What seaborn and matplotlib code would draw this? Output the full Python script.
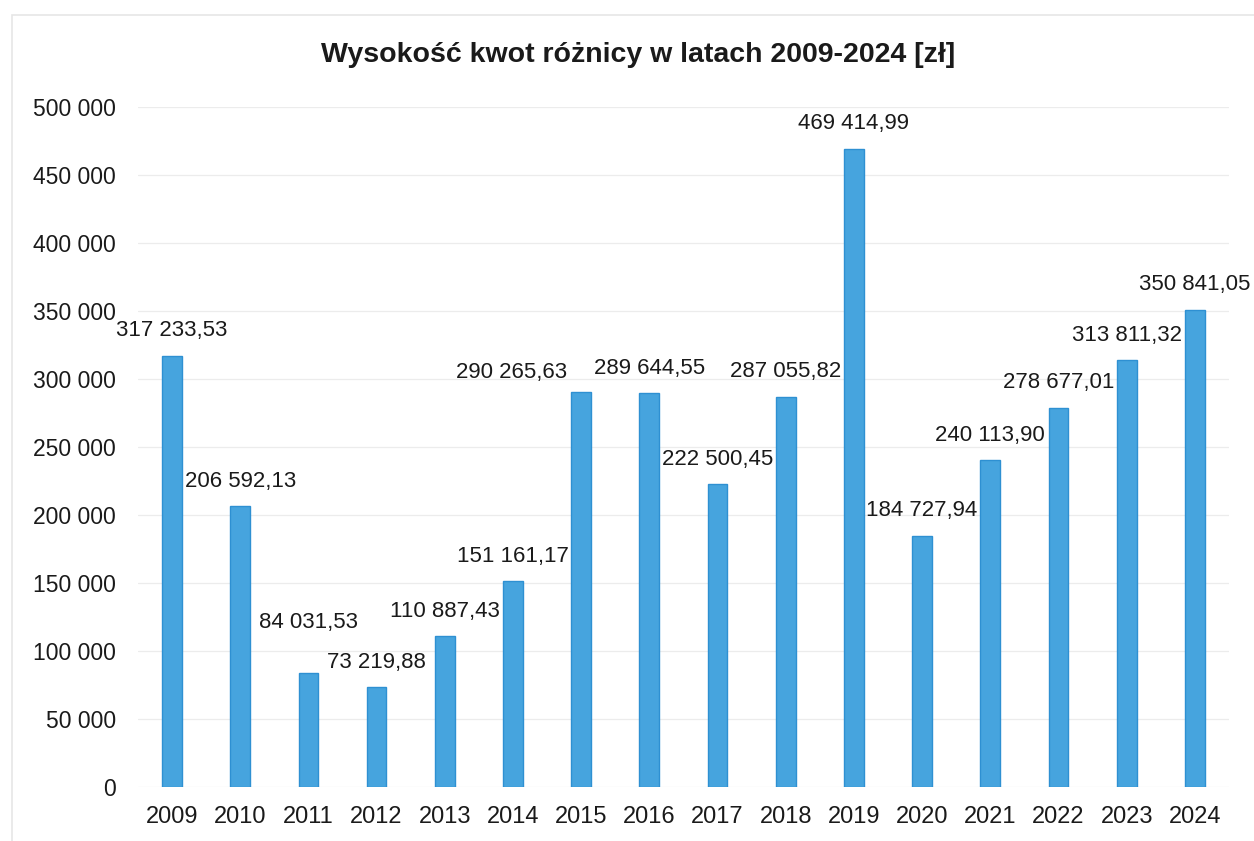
"""
Wysokość kwot różnicy w latach 2009-2024 — odtworzenie wykresu słupkowego.

Output: out.png (1254x841)
"""

import matplotlib
matplotlib.use("Agg")
import matplotlib.pyplot as plt
import pandas as pd
import seaborn as sns
from matplotlib.patches import Rectangle

YEARS = ["2009", "2010", "2011", "2012", "2013", "2014", "2015", "2016",
         "2017", "2018", "2019", "2020", "2021", "2022", "2023", "2024"]
AMOUNTS = [317233.53, 206592.13, 84031.53, 73219.88, 110887.43, 151161.17,
           290265.63, 289644.55, 222500.45, 287055.82, 469414.99, 184727.94,
           240113.90, 278677.01, 313811.32, 350841.05]
Y_TICKS = [0, 50000, 100000, 150000, 200000, 250000, 300000, 350000, 400000,
           450000, 500000]
TITLE = "Wysokość kwot różnicy w latach 2009-2024 [zł]"

# label nudges (points) where the original labels were dragged by hand
LABEL_OFFSETS = {"2011": (0, 36), "2015": (-50, 14)}
DEFAULT_OFFSET = (0, 18)

BAR_COLOR = "#46A4DE"
EDGE_COLOR = "#2E90D2"
FONT = ["Liberation Sans", "DejaVu Sans"]


def pl_money(v: float) -> str:
    return f"{v:,.2f}".replace(",", " ").replace(".", ",")


def pl_int(v: float) -> str:
    return f"{int(v):,}".replace(",", " ")


def main() -> None:
    sns.set_theme(style="white")
    plt.rcParams["font.family"] = FONT

    df = pd.DataFrame({"rok": YEARS, "kwota": AMOUNTS})

    fig = plt.figure(figsize=(12.54, 8.41), dpi=100)
    ax = fig.add_axes([0.110, 0.0642, 0.870, 0.8086])

    # faint chart-area frame (only top/left edges fall inside the page)
    fig.add_artist(Rectangle((12 / 1254, -0.1), 1.2, 1.1 - 15 / 841,
                             transform=fig.transFigure, fill=False,
                             edgecolor="#e6e6e6", linewidth=1.2))

    sns.barplot(data=df, x="rok", y="kwota", color=BAR_COLOR, saturation=1,
                width=0.29, edgecolor=EDGE_COLOR, linewidth=1, ax=ax, zorder=3)

    ax.set_ylim(0, 500000)
    ax.set_xlim(-0.5, len(YEARS) - 0.5)
    ax.set_yticks(Y_TICKS)
    ax.set_yticklabels([pl_int(t) for t in Y_TICKS])
    ax.tick_params(axis="y", labelsize=16.5, pad=16, length=0, colors="#1a1a1a")
    ax.tick_params(axis="x", labelsize=17, pad=14, length=0, colors="#1a1a1a")
    ax.set_xlabel("")
    ax.set_ylabel("")
    ax.yaxis.grid(True, color="#ececec", linewidth=0.9, zorder=0)
    ax.xaxis.grid(False)
    for s in ax.spines.values():
        s.set_visible(False)

    for i, (year, val) in enumerate(zip(YEARS, AMOUNTS)):
        dx, dy = LABEL_OFFSETS.get(year, DEFAULT_OFFSET)
        ax.annotate(pl_money(val), xy=(i, val), xytext=(dx, dy),
                    textcoords="offset points", ha="center", va="center",
                    fontsize=16, color="#1a1a1a", zorder=4)

    fig.text(0.509, 0.935, TITLE, ha="center", va="center", fontsize=20.5,
             fontweight="bold", color="#1a1a1a")

    fig.savefig("out.png", dpi=100, facecolor="white")
    plt.close(fig)


if __name__ == "__main__":
    main()
